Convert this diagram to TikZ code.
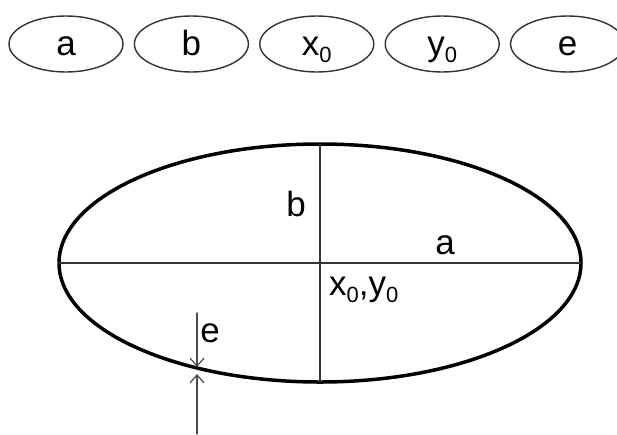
\documentclass[tikz,border=0pt]{standalone}
\usepackage{fontspec}
\setmainfont{Liberation Sans}
\usetikzlibrary{shapes.geometric,positioning,arrows.meta}
\newcommand{\lowsub}[1]{\raisebox{-7pt}{\fontsize{22}{24}\selectfont #1}}
\tikzset{
  param/.style={draw=black!80, line width=1.4pt, ellipse, minimum width=114pt, minimum height=56pt, inner sep=0pt, text height=22pt, text depth=0pt},
  axis/.style={draw=black!80, line width=1.3pt},
  gap/.style={draw=black!70, line width=1.2pt, -{Straight Barb[length=8pt,width=14pt]}}
}
\begin{document}
\begin{tikzpicture}[x=1pt, y=-1pt, font=\fontsize{35}{42}\selectfont, line join=round, line cap=round]
  \useasboundingbox[fill=white] (0,0) rectangle (617,434);
  % parameter row
  \node[param] (pa) at (66,44) {a};
  \node[param, right=10pt of pa] (pb) {b};
  \node[param, right=10pt of pb] (px) {x\lowsub{0}};
  \node[param, right=10pt of px] (py) {y\lowsub{0}};
  \node[param, right=10pt of py] (pe) {e};
  % ellipse with its axes
  \node[draw, ellipse, line width=3.5pt, minimum width=522pt, minimum height=238pt, inner sep=0pt, outer sep=0pt] (big) at (320,263) {};
  \draw[axis] (big.west) -- (big.east);
  \draw[axis] (big.north) -- (big.south);
  \node[anchor=base] (lb) at (296,216) {b};
  \node[anchor=base] (la) at (445,254) {a};
  \node[anchor=base west, inner sep=0pt] (lc) at (329,295) {x\lowsub{0},y\lowsub{0}};
  % thickness e
  \coordinate (etop) at (197,313);
  \coordinate (ebot) at (197,434);
  \coordinate (ehit) at (197,370);
  \draw[gap] (etop) -- ([yshift=3pt]ehit);
  \draw[gap] (ebot) -- ([yshift=-4pt]ehit);
  \node[anchor=base] (le) at (210,342) {e};
\end{tikzpicture}
\end{document}
